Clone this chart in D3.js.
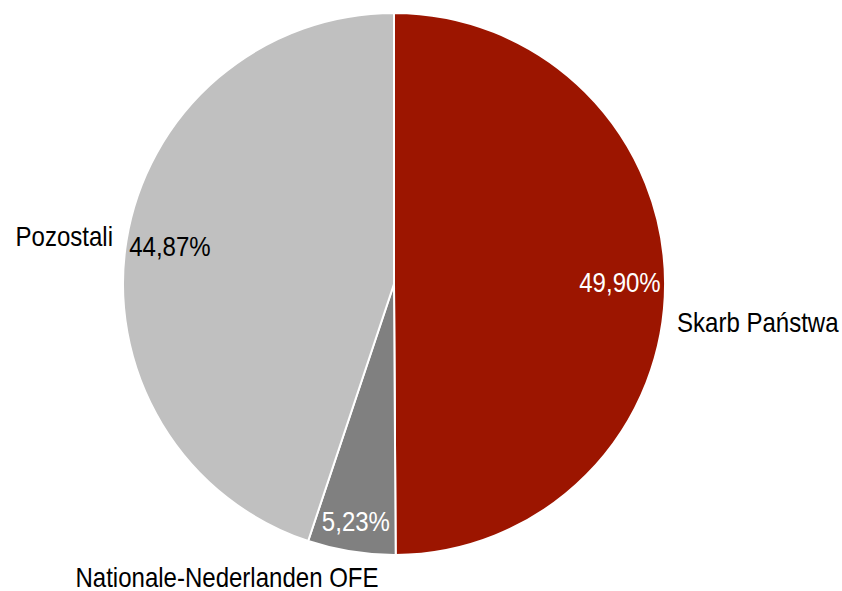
<!DOCTYPE html>
<html>
<head>
<meta charset="utf-8">
<script src="https://cdn.jsdelivr.net/npm/d3@7"></script>
<style>
  body { margin: 0; background: #fff; }
  text { font-family: "Liberation Sans", Arial, sans-serif; }
</style>
</head>
<body>
<svg id="pie"></svg>
<script>
const width = 842;
const height = 591;

// data
const categories = ["Skarb Państwa", "Nationale-Nederlanden OFE", "Pozostali"];
const shares = [49.90, 5.23, 44.87];
const colors = ["#9c1500", "#808080", "#c0c0c0"];
const valueColors = ["#ffffff", "#ffffff", "#000000"];

const cx = 394, cy = 284, radius = 271;
const narrow = 0.89; // squeeze text to look like Arial Narrow

const svg = d3.select("#pie")
  .attr("width", width)
  .attr("height", height);

const g = svg.append("g")
  .attr("transform", `translate(${cx},${cy})`);

const data = categories.map((c, i) => ({name: c, value: shares[i], color: colors[i], tcolor: valueColors[i]}));

const pie = d3.pie()
  .sort(null)
  .value(d => d.value);

const arc = d3.arc()
  .innerRadius(0)
  .outerRadius(radius);

const arcs = pie(data);

g.selectAll("path")
  .data(arcs)
  .enter()
  .append("path")
  .attr("d", arc)
  .attr("fill", d => d.data.color)
  .attr("stroke", "#fff")
  .attr("stroke-width", 2)
  .attr("stroke-linejoin", "round");

// value labels, inside end
const labelR = [226, 242, 227];
g.selectAll("text.value")
  .data(arcs)
  .enter()
  .append("text")
  .attr("class", "value")
  .attr("transform", (d, i) => {
    const a = (d.startAngle + d.endAngle) / 2;
    return `translate(${labelR[i] * Math.sin(a)},${-labelR[i] * Math.cos(a) - 1.5}) scale(${narrow},1)`;
  })
  .attr("dy", "0.36em")
  .attr("text-anchor", "middle")
  .attr("font-size", "27px")
  .attr("fill", d => d.data.tcolor)
  .text(d => d3.format(".2f")(d.data.value).replace(".", ",") + "%");

// category labels outside (baseline positions)
const catPos = [
  {x: 677 - cx, y: 332 - cy, anchor: "start"},
  {x: 227 - cx, y: 587 - cy, anchor: "middle"},
  {x: 113 - cx, y: 246 - cy, anchor: "end"}
];
g.selectAll("text.cat")
  .data(arcs)
  .enter()
  .append("text")
  .attr("class", "cat")
  .attr("transform", (d, i) => `translate(${catPos[i].x},${catPos[i].y}) scale(${narrow},1)`)
  .attr("text-anchor", (d, i) => catPos[i].anchor)
  .attr("font-size", "27px")
  .attr("fill", "#000")
  .text(d => d.data.name);
</script>
</body>
</html>
